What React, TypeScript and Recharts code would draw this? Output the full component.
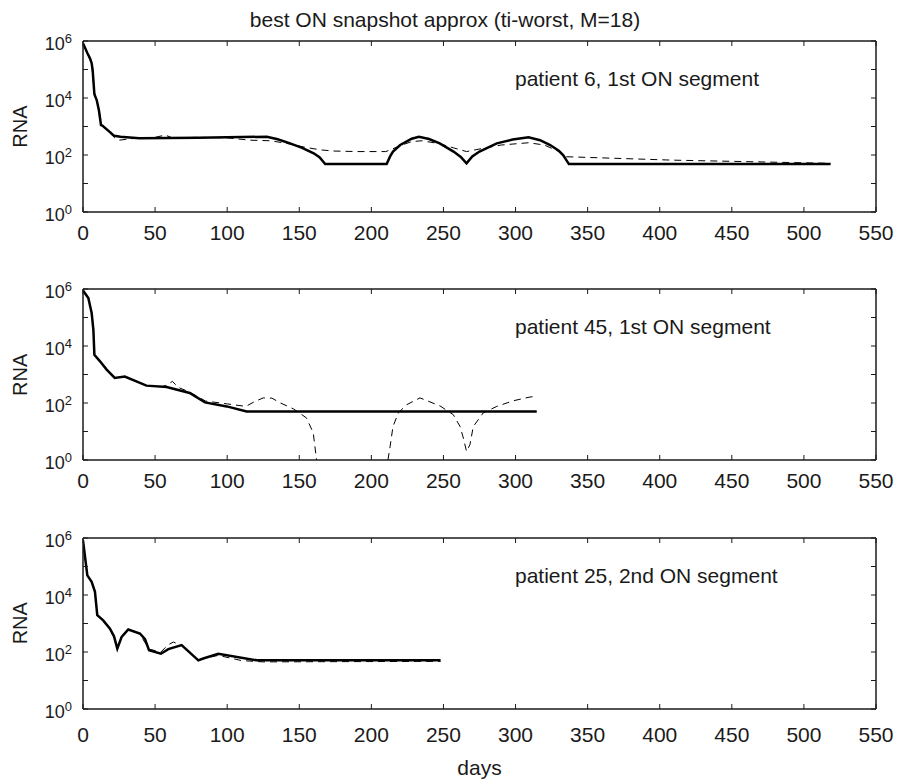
import React from 'react';
import { LineChart, Line, XAxis, YAxis } from 'recharts';

const FONT = '"Liberation Sans", Arial, Helvetica, sans-serif';
const INK = '#1a1a1a';

const xTicks = [0, 50, 100, 150, 200, 250, 300, 350, 400, 450, 500, 550];
const yTicks = [1, 10, 100, 1000, 10000, 100000, 1000000];

const titleText = 'best ON snapshot approx (ti-worst, M=18)';
const xLabel = 'days';
const yLabel = 'RNA';
const panelLabels = ['patient 6, 1st ON segment', 'patient 45, 1st ON segment', 'patient 25, 2nd ON segment'];

// Panel 1: patient 6
const p1SolidDays = [0, 3, 4.9, 6, 6.7, 7.9, 9.5, 11, 12.5, 13.4, 21.7, 26, 39, 80, 127.5, 135, 143.6, 152, 160, 164, 168, 210.6, 213, 215, 220, 228, 233, 240, 247.4, 257, 262, 266, 270, 275, 287, 298, 309, 317, 324, 330, 333, 337, 518.5];
const p1SolidRNA = [830000, 380000, 245000, 166000, 95500, 13500, 8500, 3800, 1120, 1070, 470, 440, 390, 400, 440, 355, 257, 178, 115, 83, 48, 48, 89, 132, 224, 372, 436, 363, 257, 132, 85, 51, 89, 132, 257, 347, 417, 331, 224, 141, 100, 48, 48];
const p1DashDays = [0, 3, 6, 7.9, 11, 13, 18, 22, 25, 35, 50, 57, 62, 80, 100, 116, 130, 141, 155, 165, 173.6, 190, 210, 215, 220, 228, 235, 247, 257, 266, 277, 290, 309, 320, 330, 335, 409, 518.5];
const p1DashRNA = [830000, 355000, 158000, 15800, 4000, 1120, 630, 400, 331, 380, 417, 500, 400, 417, 400, 331, 316, 257, 182, 151, 138, 132, 132, 166, 214, 295, 316, 251, 178, 132, 170, 224, 269, 224, 132, 87, 66, 51];

// Panel 2: patient 45
const p2SolidDays = [0, 3.7, 6, 7.2, 7.9, 11.8, 16.4, 22, 29, 44, 58, 74, 84.6, 99.7, 113.5, 314.7];
const p2SolidRNA = [890000, 480000, 145000, 37000, 4900, 2900, 1480, 760, 850, 407, 363, 224, 105, 76, 50, 50];
const p2DashDays = [0, 3.7, 6, 7.2, 7.9, 11.8, 16.4, 22, 29, 44, 55, 58, 62, 66, 74, 85, 100, 113, 119, 125, 131, 137, 146, 155, 159.7, 162, 187, 211.5, 213, 215, 218.7, 224.5, 233.7, 247.6, 256.8, 261.5, 263.8, 266, 268.4, 270.7, 277.6, 287, 298.5, 310, 312];
const p2DashRNA: (number | null)[] = [890000, 480000, 145000, 37000, 4900, 2900, 1480, 760, 850, 407, 380, 417, 575, 355, 240, 117, 93, 76, 112, 151, 148, 100, 62, 30, 8.9, 1, null, 1, 3, 15, 45, 87, 151, 79, 39, 15, 5.9, 2, 3.5, 15, 45, 76, 120, 162, 166];

// Panel 3: patient 25
const p3SolidDays = [0, 3, 6, 8.3, 9.9, 14, 18.7, 21.5, 23.8, 26.8, 31.4, 39.5, 43, 45.8, 54, 59.2, 68.4, 80, 83.4, 93.8, 120.5, 248];
const p3SolidRNA = [830000, 49000, 28800, 12900, 1950, 1290, 660, 355, 132, 339, 617, 447, 282, 115, 87, 126, 174, 51, 59, 87, 51, 51];
const p3DashDays = [0, 3, 6, 8.3, 9.9, 14, 18.7, 21.5, 23.8, 26.8, 31.4, 39.5, 45.8, 54, 59, 62.7, 68.4, 80, 93.8, 110, 125, 248];
const p3DashRNA = [830000, 49000, 28800, 12900, 1950, 1290, 631, 316, 141, 355, 631, 417, 126, 100, 178, 224, 166, 54, 76, 50, 45, 47];

const toPoints = (days: number[], vals: (number | null)[]) => days.map((d, i) => ({ day: d, rna: vals[i] }));

const CHART_W = 898;
const CHART_H = 284;
const PLOT_TOP = 41;
const PLOT_H = 171;

const LeftTick = (props: any) => {
  const { x, y, payload } = props;
  const e = Math.round(Math.log10(payload.value));
  return (
    <g>
      <line x1={x} x2={x + 5} y1={y} y2={y} stroke={INK} strokeWidth={1} />
      {e % 2 === 0 && (
        <text x={x - 11} y={y + 9} textAnchor="end" fontSize={18} fill={INK} fontFamily={FONT}>
          10<tspan dy={-7} fontSize={13}>{e}</tspan>
        </text>
      )}
    </g>
  );
};

const RightTick = (props: any) => {
  const { x, y } = props;
  return <line x1={x} x2={x - 5} y1={y} y2={y} stroke={INK} strokeWidth={1} />;
};

const TopTick = (props: any) => {
  const { x, y } = props;
  return <line x1={x} x2={x} y1={y} y2={y + 5} stroke={INK} strokeWidth={1} />;
};

const makeBottomTick = (offset: number) => (props: any) => {
  const { x, y, payload } = props;
  return (
    <g>
      <line x1={x} x2={x} y1={y} y2={y - 5} stroke={INK} strokeWidth={1} />
      <text x={x} y={y + offset} textAnchor="middle" fontSize={21} fill={INK} fontFamily={FONT}>
        {payload.value}
      </text>
    </g>
  );
};

type PanelProps = {
  top: number;
  solid: { day: number; rna: number | null }[];
  dashed: { day: number; rna: number | null }[];
  labelOffset: number;
};

const Panel = ({ top, solid, dashed, labelOffset }: PanelProps) => {
  const axisLine = { stroke: INK, strokeWidth: 1.5 };
  return (
    <div style={{ position: 'absolute', left: 0, top, width: CHART_W, height: CHART_H }}>
      <LineChart
        width={CHART_W}
        height={CHART_H}
        margin={{ top: 0, right: 12, bottom: CHART_H - PLOT_TOP - PLOT_H - 40, left: 23 }}
      >
        <XAxis
          dataKey="day"
          type="number"
          domain={[0, 550]}
          ticks={xTicks}
          allowDataOverflow
          interval={0}
          height={40}
          tickSize={0}
          tickMargin={0}
          tickLine={false}
          axisLine={axisLine}
          tick={makeBottomTick(labelOffset)}
        />
        <XAxis
          xAxisId="top"
          orientation="top"
          dataKey="day"
          type="number"
          domain={[0, 550]}
          ticks={xTicks}
          allowDataOverflow
          interval={0}
          height={PLOT_TOP}
          tickSize={0}
          tickMargin={0}
          tickLine={false}
          axisLine={axisLine}
          tick={TopTick}
        />
        <YAxis
          scale="log"
          type="number"
          domain={[1, 1000000]}
          ticks={yTicks}
          allowDataOverflow
          interval={0}
          width={60}
          tickSize={0}
          tickMargin={0}
          tickLine={false}
          axisLine={axisLine}
          tick={LeftTick}
        />
        <YAxis
          yAxisId="right"
          orientation="right"
          scale="log"
          type="number"
          domain={[1, 1000000]}
          ticks={yTicks}
          allowDataOverflow
          interval={0}
          width={10}
          tickSize={0}
          tickMargin={0}
          tickLine={false}
          axisLine={axisLine}
          tick={RightTick}
        />
        <Line
          data={dashed}
          dataKey="rna"
          type="linear"
          stroke="#000"
          strokeWidth={1}
          strokeDasharray="7 5"
          dot={false}
          activeDot={false}
          connectNulls={false}
          isAnimationActive={false}
        />
        <Line
          data={solid}
          dataKey="rna"
          type="linear"
          stroke="#000"
          strokeWidth={2.5}
          dot={false}
          activeDot={false}
          isAnimationActive={false}
        />
      </LineChart>
    </div>
  );
};

const panelTops = [0, 248.3, 496.7];

export default function App() {
  return (
    <div
      style={{
        position: 'absolute',
        left: 0,
        top: 0,
        width: 898,
        height: 781,
        background: '#fff',
        overflow: 'hidden',
      }}
    >
      <Panel top={panelTops[0]} solid={toPoints(p1SolidDays, p1SolidRNA)} dashed={toPoints(p1DashDays, p1DashRNA)} labelOffset={28} />
      <Panel top={panelTops[1]} solid={toPoints(p2SolidDays, p2SolidRNA)} dashed={toPoints(p2DashDays, p2DashRNA)} labelOffset={28} />
      <Panel top={panelTops[2]} solid={toPoints(p3SolidDays, p3SolidRNA)} dashed={toPoints(p3DashDays, p3DashRNA)} labelOffset={33} />
      <svg
        width={898}
        height={781}
        style={{ position: 'absolute', left: 0, top: 0, pointerEvents: 'none' }}
        fontFamily={FONT}
      >
        <text x={445} y={27} textAnchor="middle" fontSize={21} fill={INK}>
          {titleText}
        </text>
        {panelTops.map((t, i) => (
          <g key={i}>
            <text x={515} y={t + PLOT_TOP + 45} fontSize={21} fill={INK}>
              {panelLabels[i]}
            </text>
            <text
              x={27}
              y={t + PLOT_TOP + PLOT_H / 2}
              fontSize={20}
              fill={INK}
              textAnchor="middle"
              transform={`rotate(-90 27 ${t + PLOT_TOP + PLOT_H / 2})`}
            >
              {yLabel}
            </text>
          </g>
        ))}
        <text x={479.5} y={775} textAnchor="middle" fontSize={21} fill={INK}>
          {xLabel}
        </text>
      </svg>
    </div>
  );
}
